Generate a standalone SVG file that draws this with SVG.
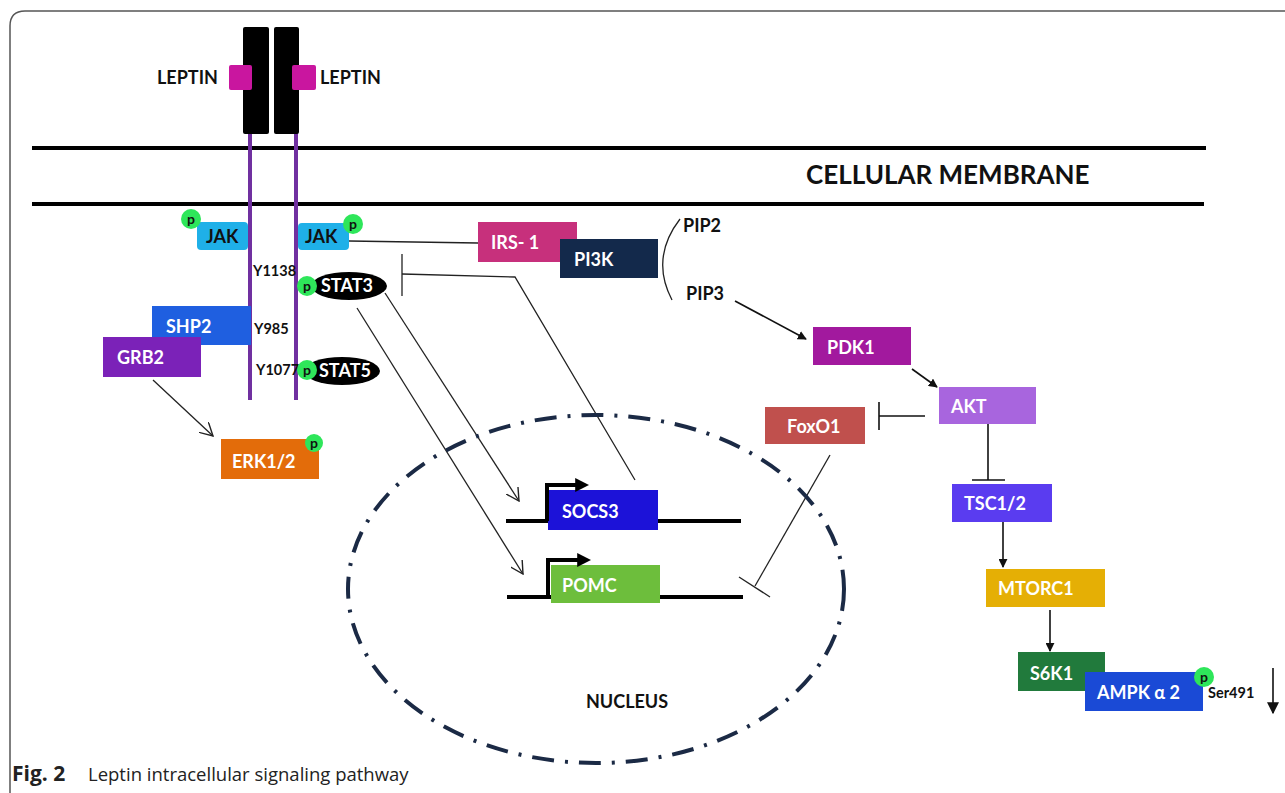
<svg xmlns="http://www.w3.org/2000/svg" width="1285" height="793" viewBox="0 0 1285 793">
<style>
.lbl{font-family:Lato,"Open Sans","Liberation Sans",sans-serif;font-weight:bold;font-size:18px;fill:#fff;}
.dk{fill:#111;}
.sm{font-family:Lato,"Liberation Sans",sans-serif;font-weight:bold;font-size:14.5px;fill:#111;}
.ln{stroke:#222;stroke-width:1.3;fill:none;}
.th{stroke:#111;stroke-width:1.6;fill:none;}
.gene{stroke:#000;stroke-width:4;fill:none;}
.pc{fill:#2EE65A;}
.pt{font-family:Lato,"Liberation Sans",sans-serif;font-weight:bold;font-size:14px;fill:#111;}
</style>
<defs>
<marker id="fa" viewBox="0 0 10 10" refX="9" refY="5" markerWidth="9" markerHeight="9" markerUnits="userSpaceOnUse" orient="auto"><path d="M0,0 L10,5 L0,10 z" fill="#111"/></marker>
<marker id="fb" viewBox="0 0 10 10" refX="9" refY="5" markerWidth="12" markerHeight="12" markerUnits="userSpaceOnUse" orient="auto"><path d="M0,0 L10,5 L0,10 z" fill="#111"/></marker>
<marker id="oa" viewBox="0 0 12 12" refX="11" refY="6" markerWidth="14" markerHeight="14" markerUnits="userSpaceOnUse" orient="auto"><path d="M0,0 L11,6 L0,12" fill="none" stroke="#222" stroke-width="1.2"/></marker>
<marker id="pa" viewBox="0 0 10 10" refX="2" refY="5" markerWidth="14" markerHeight="14" markerUnits="userSpaceOnUse" orient="auto"><path d="M0,0 L10,5 L0,10 z" fill="#000"/></marker>
</defs>
<rect width="1285" height="793" fill="#fff"/>
<path d="M10,800 L10,26 Q10,11 25,11 L1290,11" fill="none" stroke="#555" stroke-width="1.5"/>
<g id="membrane">
<line x1="32" y1="148" x2="1206" y2="148" stroke="#000" stroke-width="4"/>
<line x1="32" y1="204" x2="1204" y2="204" stroke="#000" stroke-width="4"/>
<text x="806" y="184" font-family="Lato,'Liberation Sans',sans-serif" font-weight="bold" font-size="26" fill="#111">CELLULAR MEMBRANE</text>
</g>
<g id="receptor">
<line x1="250" y1="132" x2="250" y2="400" stroke="#7030A0" stroke-width="4"/>
<line x1="296" y1="132" x2="296" y2="400" stroke="#7030A0" stroke-width="4"/>
<rect x="243" y="27" width="26" height="107" rx="2" fill="#000"/>
<rect x="274" y="27" width="25" height="107" rx="2" fill="#000"/>
</g>
<g id="leptin-left">
<rect x="229" y="65" width="23" height="25" rx="2" fill="#C9169F"/>
<text x="157" y="84" class="lbl dk" font-size="20">LEPTIN</text>
</g>
<g id="leptin-right">
<rect x="292" y="65" width="24" height="25" rx="2" fill="#C9169F"/>
<text x="320" y="84" class="lbl dk" font-size="20">LEPTIN</text>
</g>
<g id="connectors">
<line x1="349" y1="241" x2="478" y2="243" class="ln"/>
<path d="M680,219 Q650,258 672,300" class="ln"/>
<line x1="735" y1="301" x2="806" y2="339" class="th" marker-end="url(#fa)"/>
<line x1="912" y1="369" x2="937" y2="387" class="th" marker-end="url(#fa)"/>
<line x1="925" y1="416" x2="879" y2="416" class="th"/>
<line x1="879" y1="402" x2="879" y2="430" class="th"/>
<line x1="988" y1="424" x2="988" y2="480" class="th"/>
<line x1="972" y1="480" x2="1005" y2="480" class="th"/>
<line x1="1003" y1="522" x2="1003" y2="567" class="th" marker-end="url(#fa)"/>
<line x1="1050" y1="610" x2="1050" y2="651" class="th" marker-end="url(#fa)"/>
<line x1="1273" y1="668" x2="1273" y2="713" class="th" marker-end="url(#fb)"/>
<polyline points="635,480 515,277 402,274" class="ln"/>
<line x1="402" y1="254" x2="402" y2="296" class="ln"/>
<line x1="385" y1="293" x2="519" y2="501" class="ln" marker-end="url(#oa)"/>
<line x1="357" y1="308" x2="523" y2="574" class="ln" marker-end="url(#oa)"/>
<line x1="153" y1="380" x2="213" y2="436" class="ln" marker-end="url(#oa)"/>
<line x1="830" y1="455" x2="755" y2="586" class="ln"/>
<line x1="739" y1="577" x2="770" y2="597" class="ln"/>
</g>
<g id="nucleus">
<ellipse cx="596" cy="589" rx="248" ry="174" fill="none" stroke="#1B2A45" stroke-width="4" stroke-dasharray="22 11 3 11"/>
<text x="586" y="708" class="lbl dk" font-size="20.5">NUCLEUS</text>
</g>
<g id="jak-left">
<rect x="197" y="222" width="51" height="28" rx="4" fill="#1FB0E8"/>
<text x="206" y="243" class="lbl dk">JAK</text>
<circle cx="191" cy="219" r="10" class="pc"/><text x="191" y="224" class="pt" text-anchor="middle">p</text>
</g>
<g id="jak-right">
<rect x="298" y="223" width="51" height="27" rx="4" fill="#1FB0E8"/>
<text x="305" y="243" class="lbl dk">JAK</text>
<circle cx="353" cy="224" r="10" class="pc"/><text x="353" y="229" class="pt" text-anchor="middle">p</text>
</g>
<g id="labels-y">
<text x="253" y="276" class="sm">Y1138</text>
<text x="254" y="334" class="sm">Y985</text>
<text x="256" y="375" class="sm">Y1077</text>
</g>
<g id="stat3">
<ellipse cx="349" cy="286" rx="38" ry="14" fill="#000"/>
<text x="321" y="292" class="lbl">STAT3</text>
<circle cx="307" cy="286" r="10" class="pc"/><text x="307" y="291" class="pt" text-anchor="middle">p</text>
</g>
<g id="stat5">
<ellipse cx="342" cy="371" rx="38" ry="14" fill="#000"/>
<text x="319" y="377" class="lbl">STAT5</text>
<circle cx="307" cy="370" r="10" class="pc"/><text x="307" y="375" class="pt" text-anchor="middle">p</text>
</g>
<g id="shp2">
<rect x="152" y="306" width="99" height="39" fill="#1F5FE0"/>
<text x="166" y="333" class="lbl">SHP2</text>
</g>
<g id="grb2">
<rect x="103" y="337" width="98" height="40" fill="#7B22B8"/>
<text x="117" y="364" class="lbl">GRB2</text>
</g>
<g id="erk">
<rect x="221" y="439" width="98" height="40" fill="#E36C0A"/>
<text x="232" y="468" class="lbl">ERK1/2</text>
<circle cx="314" cy="443" r="9" class="pc"/><text x="314" y="448" class="pt" text-anchor="middle">p</text>
</g>
<g id="irs1">
<rect x="478" y="222" width="99" height="40" fill="#C7307C"/>
<text x="491" y="249" class="lbl">IRS- 1</text>
</g>
<g id="pi3k">
<rect x="560" y="239" width="98" height="39" fill="#13294B"/>
<text x="574" y="266" class="lbl">PI3K</text>
</g>
<g id="pip">
<text x="683" y="232" class="lbl dk">PIP2</text>
<text x="686" y="300" class="lbl dk">PIP3</text>
</g>
<g id="pdk1">
<rect x="813" y="327" width="98" height="38" fill="#A2199E"/>
<text x="827" y="354" class="lbl">PDK1</text>
</g>
<g id="akt">
<rect x="939" y="387" width="97" height="37" fill="#A865DE"/>
<text x="951" y="413" class="lbl">AKT</text>
</g>
<g id="foxo1">
<rect x="765" y="407" width="100" height="37" fill="#C0504D"/>
<text x="787" y="433" class="lbl">FoxO1</text>
</g>
<g id="tsc">
<rect x="952" y="484" width="100" height="38" fill="#5A3CF0"/>
<text x="964" y="510" class="lbl">TSC1/2</text>
</g>
<g id="mtorc1">
<rect x="986" y="569" width="119" height="38" fill="#E5AF05"/>
<text x="998" y="595" class="lbl">MTORC1</text>
</g>
<g id="s6k1">
<rect x="1018" y="652" width="87" height="39" fill="#217A3C"/>
<text x="1030" y="680" class="lbl">S6K1</text>
</g>
<g id="ampk">
<rect x="1085" y="672" width="118" height="39" fill="#1A4AD6"/>
<text x="1097" y="699" class="lbl" font-size="20">AMPK α 2</text>
<circle cx="1204" cy="677" r="10" class="pc"/><text x="1204" y="682" class="pt" text-anchor="middle">p</text>
<text x="1208" y="698" class="sm" font-size="13.5">Ser491</text>
</g>
<g id="socs3">
<line x1="506" y1="521" x2="741" y2="521" class="gene"/>
<rect x="548" y="490" width="110" height="40" fill="#1C12D8"/>
<path d="M547,521 L547,485 L578,485" class="gene" marker-end="url(#pa)"/>
<text x="562" y="518" class="lbl">SOCS3</text>
</g>
<g id="pomc">
<line x1="507" y1="597" x2="743" y2="597" class="gene"/>
<rect x="551" y="565" width="109" height="38" fill="#6DBE3C"/>
<path d="M548,597 L548,560 L580,560" class="gene" marker-end="url(#pa)"/>
<text x="562" y="592" class="lbl">POMC</text>
</g>
<g id="caption">
<text x="12" y="781" font-family="'Open Sans','Noto Sans',sans-serif" font-size="18.5" fill="#222"><tspan font-weight="bold" font-size="21">Fig. 2</tspan><tspan x="88">Leptin intracellular signaling pathway</tspan></text>
</g>
</svg>
